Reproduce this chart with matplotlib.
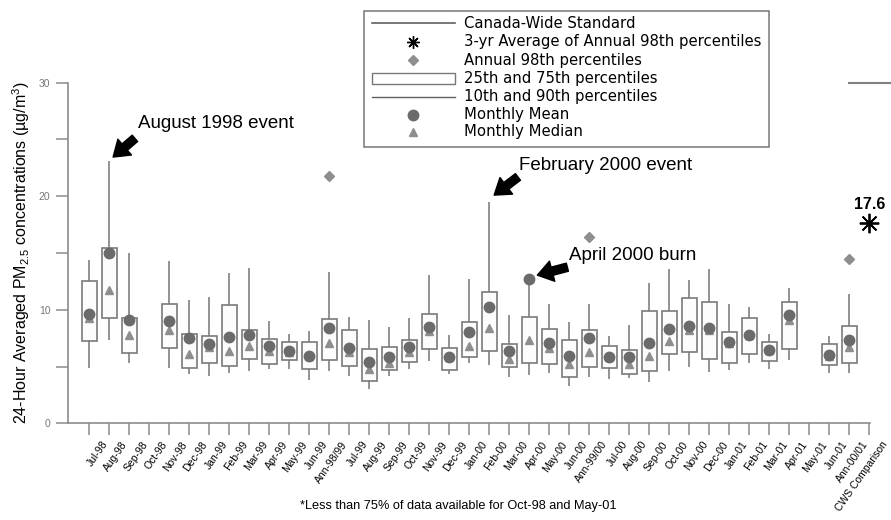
import numpy as np
import matplotlib
matplotlib.use("Agg")
from matplotlib import pyplot as plt
from matplotlib.patches import Rectangle
import matplotlib.transforms as mtransforms

plt.rcParams['font.family'] = ['Liberation Sans', 'DejaVu Sans']
plt.rcParams['mathtext.default'] = 'regular'

months = ["Jul-98", "Aug-98", "Sep-98", "Oct-98", "Nov-98", "Dec-98", "Jan-99", "Feb-99",
          "Mar-99", "Apr-99", "May-99", "Jun-99", "Ann-98/99", "Jul-99", "Aug-99", "Sep-99",
          "Oct-99", "Nov-99", "Dec-99", "Jan-00", "Feb-00", "Mar-00", "Apr-00", "May-00",
          "Jun-00", "Ann-99/00", "Jul-00", "Aug-00", "Sep-00", "Oct-00", "Nov-00", "Dec-00",
          "Jan-01", "Feb-01", "Mar-01", "Apr-01", "May-01", "Jun-01", "Ann-00/01", "CWS Comparison"]
nan = np.nan
# 10th / 25th / 75th / 90th percentiles, mean, median  (ug/m3)
p10 = [4.85, 7.3, 5.3, nan, 4.85, 4.3, 4.2, 4.4, 4.6, 4.75, 4.75, 3.8, 4.6, 4.15, 3.0, 4.2,
       4.75, 5.45, 4.3, 5.3, 5.1, 4.1, 4.25, 4.45, 3.25, 4.1, 3.9, 3.95, 3.6, 4.6, 5.0, 4.55,
       4.7, 5.35, 4.8, 5.6, nan, 4.4, 4.45, nan]
p25 = [7.25, 9.25, 6.2, nan, 6.6, 4.85, 5.3, 5.05, 5.65, 5.2, 5.55, 4.75, 5.55, 5.05, 3.7, 4.7,
       5.4, 6.55, 4.7, 5.8, 6.35, 4.95, 5.35, 5.25, 4.1, 5.0, 4.85, 4.35, 4.6, 6.1, 6.25, 5.7,
       5.3, 6.1, 5.5, 6.55, nan, 5.15, 5.3, nan]
p75 = [12.5, 15.4, 9.25, nan, 10.5, 7.9, 7.65, 10.4, 8.2, 7.4, 7.2, 7.15, 9.2, 8.2, 6.55, 6.7,
       7.3, 9.6, 6.65, 8.9, 11.55, 7.0, 9.35, 8.3, 7.3, 8.2, 6.8, 6.45, 9.85, 9.85, 11.05, 10.65,
       8.0, 9.25, 7.15, 10.65, nan, 6.95, 8.6, nan]
p90 = [14.4, 23.1, 15.0, nan, 14.3, 10.9, 11.15, 13.2, 13.7, 9.0, 7.85, 8.1, 13.3, 9.4, 9.1, 8.45,
       9.3, 13.05, 7.75, 12.75, 19.45, 9.55, 12.7, 10.55, 8.95, 10.55, 7.7, 8.7, 12.4, 13.55, 12.6, 13.55,
       10.5, 10.2, 7.9, 11.9, nan, 7.7, 11.35, nan]
mean = [9.6, 15.0, 9.1, nan, 9.0, 7.5, 7.0, 7.6, 7.75, 6.8, 6.35, 5.95, 8.35, 6.65, 5.4, 5.85,
        6.75, 8.45, 5.85, 8.05, 10.25, 6.35, 12.75, 7.1, 5.9, 7.5, 5.85, 5.8, 7.1, 8.3, 8.55, 8.4,
        7.15, 7.75, 6.5, 9.5, nan, 6.0, 7.3, nan]
median = [9.3, 11.75, 7.8, nan, 8.2, 6.1, 6.75, 6.35, 6.8, 6.35, 6.3, 5.95, 7.05, 6.3, 4.75, 5.3,
          6.3, 8.1, 5.8, 6.85, 8.4, 5.7, 7.35, 6.6, 5.2, 6.3, 5.85, 5.2, 5.95, 7.25, 8.2, 8.2,
          7.05, 7.75, 6.5, 9.1, nan, 5.95, 6.75, nan]
annual_pos = [12, 25, 38]
annual_98th = [21.8, 16.45, 14.5]
cws_avg = 17.6
cws_standard = 30

x = np.arange(len(months))
p10, p25, p75, p90 = map(np.array, (p10, p25, p75, p90))
mean, median = np.array(mean), np.array(median)

box_edge = '#7a7a7a'
whisk_c = '#8a8a8a'
mean_c = '#6b6b6b'
med_c = '#8e8e8e'
axis_c = '#8c8c8c'
star = (8, 2, 0)

fig = plt.figure(figsize=(8.91, 5.2), dpi=100)
ax = fig.add_axes([68 / 891, 1 - 423.3 / 520, 802 / 891, 340.6 / 520])

ok = ~np.isnan(p25)
ax.vlines(x[ok], p10[ok], p25[ok], color=whisk_c, lw=1.3, zorder=2)
ax.vlines(x[ok], p75[ok], p90[ok], color=whisk_c, lw=1.3, zorder=2)
ax.bar(x[ok], p75[ok] - p25[ok], bottom=p25[ok], width=0.75, color='#fcfcfc',
       edgecolor=box_edge, lw=1.2, zorder=3)
ax.plot(x[ok], median[ok], ls='none', marker='^', ms=6, color=med_c, zorder=4)
ax.plot(x[ok], mean[ok], ls='none', marker='o', ms=7.5, color=mean_c, zorder=5)
ax.plot(annual_pos, annual_98th, ls='none', marker='D', ms=5, color=med_c, zorder=5)

ax.plot([39], [cws_avg], ls='none', marker=star, ms=14, mew=1.3, color='black',
        clip_on=False, zorder=6)
ax.text(39, 19.25, '17.6', ha='center', va='center', fontsize=11.5, fontweight='bold')
ax.plot([37.98, 41.5], [cws_standard, cws_standard], color='#808080', lw=1.5, clip_on=False)

# annotations
arrow = dict(arrowstyle='simple,head_length=1.1,head_width=1.5,tail_width=0.6',
             fc='black', ec='black', mutation_scale=10, shrinkA=0, shrinkB=0)
notes = [("August 1998 event", (2.43, 26.4), (2.28, 25.1), (1.19, 23.45)),
         ("February 2000 event", (21.5, 22.7), (21.43, 21.7), (20.24, 20.1)),
         ("April 2000 burn", (24.0, 14.8), (23.9, 13.75), (22.4, 13.05))]
for txt, tpos, tail, tip in notes:
    ax.text(tpos[0], tpos[1], txt, fontsize=13.5, va='center', ha='left')
    ax.annotate('', xy=tip, xytext=tail, arrowprops=arrow)

ax.set_xlim(-1.065, 39.03)
ax.set_ylim(0, 30)
for s in ['top', 'right']:
    ax.spines[s].set_visible(False)
for s in ['left', 'bottom']:
    ax.spines[s].set_color(axis_c)
    ax.spines[s].set_linewidth(1.2)

ax.set_yticks([0, 10, 20, 30])
ax.set_yticks([5, 15, 25], minor=True)
ax.tick_params(axis='y', which='both', length=8.6, color=axis_c, width=1.1,
               labelsize=7.5, labelcolor='#777777', pad=4)
ax.set_xticks(x)
ax.set_xticklabels(months, rotation=55, ha='right', va='top', rotation_mode='anchor',
                   fontsize=7.5)
ax.tick_params(axis='x', length=8.6, color=axis_c, width=1.1, pad=3)
off = mtransforms.ScaledTranslation(12 / 100, 0, fig.dpi_scale_trans)
for lab in ax.get_xticklabels():
    lab.set_transform(lab.get_transform() + off)

ax.set_ylabel('24-Hour Averaged PM$_{2.5}$ concentrations (µg/m$^3$)', fontsize=11.5)
ax.yaxis.set_label_coords(-0.045, 0.5)

fig.text(300 / 891, 1 - 506 / 520, '*Less than 75% of data available for Oct-98 and May-01',
         fontsize=9.2, va='center', ha='left')

# legend drawn in figure pixel space
lg = fig.add_axes([0, 0, 1, 1], zorder=10)
lg.set_xlim(0, 891)
lg.set_ylim(520, 0)
lg.axis('off')
lg.add_patch(Rectangle((364, 11), 405, 136, fc='white', ec='#777777', lw=1.1))
rows = [23.3, 41.7, 60, 78.3, 96.7, 115, 131.7]
labels = ["Canada-Wide Standard", "3-yr Average of Annual 98th percentiles",
          "Annual 98th percentiles", "25th and 75th percentiles",
          "10th and 90th percentiles", "Monthly Mean", "Monthly Median"]
lg.plot([372, 455], [rows[0]] * 2, color='#606060', lw=1.2)
lg.plot([413], [rows[1]], marker=star, ms=9, mew=1.0, color='black')
lg.plot([413], [rows[2]], marker='D', ms=5, color=med_c)
lg.add_patch(Rectangle((372, rows[3] - 5.5), 83, 11, fc='white', ec='#777777', lw=1.0))
lg.plot([372, 455], [rows[4]] * 2, color='#606060', lw=1.0)
lg.plot([413], [rows[5]], marker='o', ms=7.5, color=mean_c)
lg.plot([413], [rows[6]], marker='^', ms=6, color=med_c)
for r, t in zip(rows, labels):
    lg.text(464, r, t, fontsize=10.7, va='center', ha='left', family='DejaVu Sans')

fig.savefig('out.png', dpi=100)
